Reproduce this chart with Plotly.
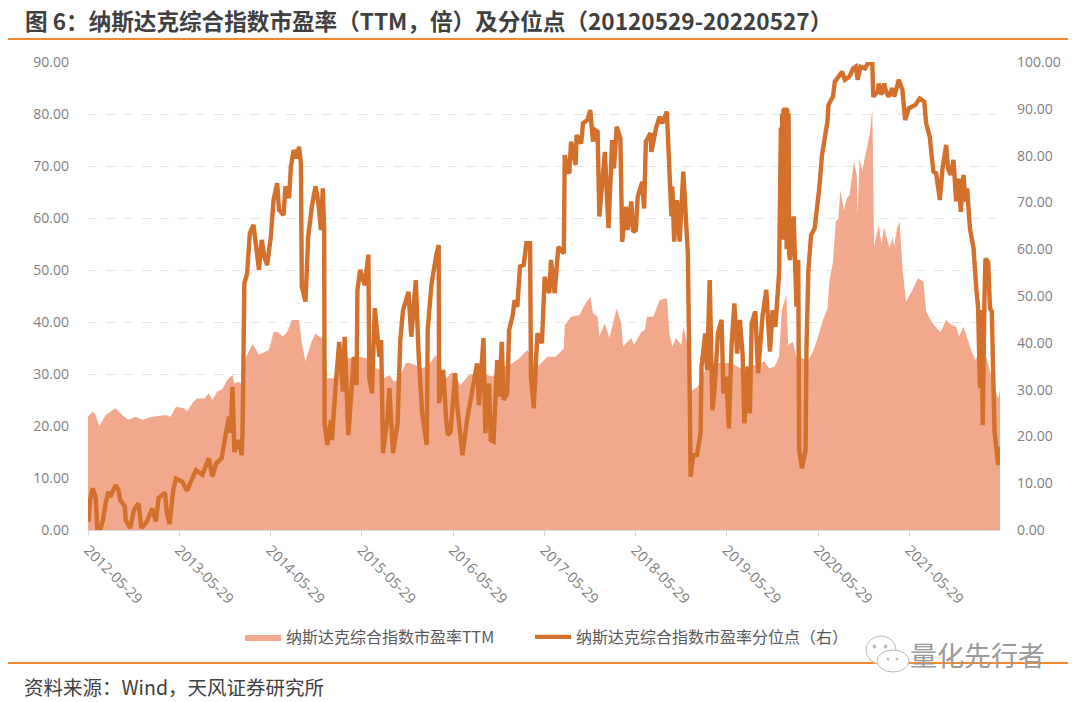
import pandas as pd
import plotly.graph_objects as go

title_text = "图 6：纳斯达克综合指数市盈率（TTM，倍）及分位点（20120529-20220527）"
source_text = "资料来源：Wind，天风证券研究所"
watermark_text = "量化先行者"
pe_name = "纳斯达克综合指数市盈率TTM"
pct_name = "纳斯达克综合指数市盈率分位点（右）"

tick_dates = ["2012-05-29", "2013-05-29", "2014-05-29", "2015-05-29", "2016-05-29",
              "2017-05-29", "2018-05-29", "2019-05-29", "2020-05-29", "2021-05-29"]
left_ticks = [0, 10, 20, 30, 40, 50, 60, 70, 80, 90]
right_ticks = [0, 10, 20, 30, 40, 50, 60, 70, 80, 90, 100]

# PE (x in fractional years)
pe_years = [
    2012.407, 2012.46, 2012.49, 2012.53, 2012.60, 2012.71, 2012.78, 2012.85, 2012.93, 2013.00,
    2013.11, 2013.26, 2013.31, 2013.37, 2013.46, 2013.49, 2013.55, 2013.60, 2013.68, 2013.73,
    2013.77, 2013.82, 2013.88, 2013.93, 2013.99, 2014.01, 2014.06, 2014.10, 2014.13, 2014.21,
    2014.28, 2014.39, 2014.44, 2014.49, 2014.54, 2014.59, 2014.64, 2014.72, 2014.75, 2014.79,
    2014.85, 2014.90, 2014.96, 2015.00, 2015.03, 2015.10, 2015.17, 2015.25, 2015.38, 2015.49,
    2015.56, 2015.61, 2015.65, 2015.71, 2015.76, 2015.82, 2015.89, 2015.94, 2015.99, 2016.07,
    2016.14, 2016.22, 2016.25, 2016.33, 2016.40, 2016.49, 2016.58, 2016.64, 2016.78, 2016.84,
    2016.95, 2017.02, 2017.13, 2017.22, 2017.33, 2017.44, 2017.53, 2017.62, 2017.63, 2017.70,
    2017.79, 2017.85, 2017.91, 2017.94, 2017.99, 2018.01, 2018.07, 2018.12, 2018.20, 2018.25,
    2018.27, 2018.36, 2018.39, 2018.47, 2018.51, 2018.53, 2018.60, 2018.67, 2018.75, 2018.78,
    2018.81, 2018.85, 2018.91, 2018.93, 2018.98, 2019.01, 2019.09, 2019.16, 2019.22, 2019.27,
    2019.34, 2019.45, 2019.56, 2019.67, 2019.73, 2019.82, 2019.87, 2019.93, 2019.98, 2020.01,
    2020.06, 2020.08, 2020.13, 2020.17, 2020.30, 2020.35, 2020.39, 2020.46, 2020.51, 2020.53,
    2020.57, 2020.60, 2020.63, 2020.65, 2020.69, 2020.72, 2020.75, 2020.80, 2020.83, 2020.84,
    2020.86, 2020.89, 2020.94, 2020.97, 2021.00, 2021.02, 2021.07, 2021.10, 2021.13, 2021.15,
    2021.19, 2021.22, 2021.24, 2021.27, 2021.30, 2021.33, 2021.37, 2021.43, 2021.50, 2021.56,
    2021.59, 2021.65, 2021.72, 2021.75, 2021.81, 2021.87, 2021.92, 2021.95, 2022.00, 2022.04,
    2022.09, 2022.13, 2022.16, 2022.25, 2022.33, 2022.38, 2022.40,
]
pe_values = [
    21.8, 22.8, 22.1, 20.0, 22.1, 23.4, 22.1, 21.2, 21.8, 21.2,
    21.8, 22.1, 21.8, 23.7, 23.4, 22.8, 24.4, 25.3, 25.3, 26.3,
    25.0, 26.6, 27.1, 28.8, 29.8, 28.2, 28.5, 27.9, 33.0, 35.8,
    33.7, 34.6, 38.1, 38.1, 37.2, 38.1, 40.4, 40.4, 35.9, 32.4,
    35.9, 37.8, 36.9, 37.2, 29.2, 29.2, 33.3, 33.0, 33.3, 33.0,
    31.1, 30.8, 29.2, 29.8, 28.5, 29.2, 32.1, 32.1, 31.7, 31.1,
    31.7, 33.7, 32.1, 29.2, 30.4, 27.9, 29.8, 30.1, 29.8, 29.5,
    31.4, 31.7, 33.0, 34.6, 31.4, 33.3, 33.3, 34.9, 39.4, 41.0,
    41.3, 43.3, 44.9, 41.7, 41.0, 37.2, 39.7, 36.9, 42.6, 39.7,
    35.3, 36.9, 35.6, 38.1, 38.5, 41.0, 41.0, 44.2, 44.6, 37.5,
    35.3, 36.9, 35.6, 39.1, 35.6, 26.6, 27.6, 30.4, 32.1, 32.1,
    32.1, 32.1, 31.1, 31.7, 31.7, 32.4, 31.1, 31.4, 33.3, 42.3,
    45.2, 35.6, 36.2, 33.3, 32.7, 34.3, 36.2, 40.4, 42.6, 47.8,
    51.6, 59.3, 59.9, 65.4, 61.5, 63.8, 64.4, 70.8, 68.3, 60.6,
    71.5, 69.2, 73.4, 76.0, 80.8, 54.5, 58.7, 55.1, 58.3, 56.7,
    54.2, 56.4, 54.5, 58.0, 59.3, 50.3, 43.9, 45.8, 48.4, 47.8,
    42.0, 40.1, 38.5, 38.1, 40.4, 39.4, 39.1, 37.2, 39.1, 36.9,
    34.3, 32.7, 33.7, 33.3, 27.9, 25.3, 26.9,
]

# percentile on the right axis, same x convention
pct_years = [
    2012.407, 2012.415, 2012.43, 2012.46, 2012.49, 2012.50, 2012.51, 2012.54, 2012.57, 2012.60,
    2012.63, 2012.65, 2012.71, 2012.74, 2012.76, 2012.81, 2012.82, 2012.87, 2012.91, 2012.96,
    2012.99, 2013.05, 2013.11, 2013.15, 2013.18, 2013.25, 2013.27, 2013.30, 2013.34, 2013.37,
    2013.44, 2013.49, 2013.54, 2013.59, 2013.66, 2013.73, 2013.77, 2013.81, 2013.87, 2013.91,
    2013.95, 2013.97, 2013.99, 2014.00, 2014.01, 2014.06, 2014.09, 2014.10, 2014.11, 2014.12,
    2014.15, 2014.18, 2014.22, 2014.28, 2014.31, 2014.34, 2014.37, 2014.41, 2014.44, 2014.48,
    2014.50, 2014.55, 2014.57, 2014.61, 2014.63, 2014.66, 2014.69, 2014.72, 2014.74, 2014.75,
    2014.79, 2014.82, 2014.86, 2014.90, 2014.93, 2014.96, 2014.98, 2014.995, 2015.00, 2015.03,
    2015.07, 2015.08, 2015.12, 2015.16, 2015.20, 2015.22, 2015.26, 2015.30, 2015.32, 2015.35,
    2015.36, 2015.39, 2015.44, 2015.48, 2015.49, 2015.52, 2015.55, 2015.58, 2015.60, 2015.62,
    2015.64, 2015.69, 2015.71, 2015.75, 2015.80, 2015.83, 2015.86, 2015.92, 2015.95, 2016.00,
    2016.03, 2016.07, 2016.12, 2016.13, 2016.17, 2016.22, 2016.25, 2016.255, 2016.30, 2016.33,
    2016.35, 2016.38, 2016.43, 2016.45, 2016.51, 2016.56, 2016.62, 2016.67, 2016.69, 2016.74,
    2016.76, 2016.80, 2016.82, 2016.85, 2016.89, 2016.91, 2016.94, 2016.96, 2017.00, 2017.02,
    2017.06, 2017.08, 2017.11, 2017.14, 2017.18, 2017.21, 2017.25, 2017.26, 2017.29, 2017.33,
    2017.38, 2017.41, 2017.46, 2017.48, 2017.52, 2017.56, 2017.62, 2017.63, 2017.66, 2017.68,
    2017.70, 2017.75, 2017.76, 2017.81, 2017.83, 2017.88, 2017.91, 2017.94, 2017.96, 2017.99,
    2018.01, 2018.04, 2018.07, 2018.11, 2018.15, 2018.17, 2018.20, 2018.24, 2018.26, 2018.30,
    2018.32, 2018.36, 2018.38, 2018.41, 2018.43, 2018.48, 2018.50, 2018.52, 2018.57, 2018.58,
    2018.63, 2018.67, 2018.70, 2018.75, 2018.78, 2018.80, 2018.81, 2018.83, 2018.86, 2018.89,
    2018.93, 2018.96, 2018.98, 2019.00, 2019.01, 2019.04, 2019.08, 2019.12, 2019.13, 2019.17,
    2019.19, 2019.22, 2019.25, 2019.27, 2019.31, 2019.35, 2019.37, 2019.40, 2019.43, 2019.46,
    2019.49, 2019.52, 2019.55, 2019.58, 2019.60, 2019.64, 2019.66, 2019.68, 2019.72, 2019.75,
    2019.80, 2019.84, 2019.88, 2019.91, 2019.94, 2019.98, 2020.00, 2020.007, 2020.014, 2020.021,
    2020.028, 2020.035, 2020.042, 2020.049, 2020.056, 2020.063, 2020.07, 2020.077, 2020.084, 2020.09,
    2020.10, 2020.14, 2020.17, 2020.19, 2020.20, 2020.23, 2020.27,
    2020.28, 2020.30, 2020.33, 2020.37, 2020.39, 2020.42, 2020.45, 2020.49, 2020.51, 2020.52,
    2020.57, 2020.59, 2020.62, 2020.67, 2020.70, 2020.75, 2020.79, 2020.82, 2020.84, 2020.87,
    2020.92, 2020.95, 2021.00, 2021.01, 2021.06, 2021.07, 2021.10, 2021.13, 2021.15, 2021.18,
    2021.22, 2021.24, 2021.27, 2021.29, 2021.33, 2021.36, 2021.40, 2021.47, 2021.52, 2021.57,
    2021.59, 2021.63, 2021.65, 2021.67, 2021.70, 2021.72, 2021.74, 2021.77, 2021.81, 2021.83,
    2021.86, 2021.89, 2021.92, 2021.95, 2021.97, 2022.00, 2022.02, 2022.04, 2022.07, 2022.11,
    2022.12, 2022.14, 2022.16, 2022.18, 2022.20, 2022.21, 2022.23, 2022.24, 2022.27, 2022.29,
    2022.31, 2022.33, 2022.34, 2022.38, 2022.40,
]
pct_values = [
    6.4, 1.8, 6.4, 8.9, 7.1, 2.8, 0.0, 0.0, 2.1, 5.7,
    8.2, 7.1, 9.6, 8.5, 6.4, 5.0, 2.1, 0.4, 4.3, 5.7,
    0.4, 1.8, 4.6, 1.8, 6.8, 8.0, 3.6, 1.3, 8.5, 11.0,
    10.3, 8.4, 10.7, 12.8, 11.8, 15.3, 11.4, 14.2, 15.3, 19.9,
    24.2, 20.7, 30.6, 24.2, 16.7, 19.2, 16.0, 20.7, 42.0, 52.7,
    54.8, 63.4, 65.2, 55.6, 62.0, 58.4, 56.6, 62.7, 70.5, 74.1,
    68.4, 67.3, 73.4, 70.9, 77.6, 81.2, 79.4, 81.9, 78.3, 52.0,
    48.8, 62.7, 69.1, 73.4, 70.2, 64.1, 73.0, 64.1, 22.8, 18.2,
    23.5, 19.2, 30.6, 40.2, 29.6, 41.3, 20.3, 30.6, 37.0, 31.0,
    51.3, 55.6, 52.3, 58.8, 32.4, 29.2, 47.4, 41.3, 37.0, 40.6,
    16.4, 24.2, 30.3, 16.4, 22.8, 40.6, 47.0, 50.9, 41.3, 53.4,
    37.7, 24.9, 18.2, 42.7, 52.3, 58.4, 60.9, 27.1, 34.2, 24.2,
    20.3, 21.0, 33.5, 27.1, 16.0, 23.5, 30.6, 35.6, 26.7, 41.0,
    20.7, 31.3, 19.2, 18.9, 36.3, 28.5, 40.2, 27.8, 29.2, 42.7,
    45.9, 49.1, 47.7, 56.3, 56.6, 61.3, 61.3, 32.8, 26.0, 42.0,
    39.9, 54.1, 50.6, 57.7, 50.6, 60.5, 59.1, 80.1, 76.9, 76.2,
    83.0, 78.0, 84.4, 82.6, 86.9, 87.6, 89.7, 83.0, 85.5, 85.1,
    67.0, 74.8, 80.8, 64.5, 83.3, 77.3, 86.2, 83.7, 61.6, 69.1,
    64.1, 70.2, 63.7, 64.1, 71.2, 74.4, 68.7, 83.0, 84.8, 80.8,
    85.8, 88.3, 86.9, 89.4, 74.8, 67.0, 73.4, 61.6, 70.5, 61.6,
    76.6, 67.3, 59.1, 30.0, 11.4, 16.0, 16.0, 20.7, 34.9, 42.0,
    34.2, 53.4, 25.6, 29.2, 42.0, 44.9, 29.2, 32.8, 21.7, 39.9,
    48.4, 37.7, 44.9, 37.7, 22.8, 34.9, 24.9, 44.2, 46.7, 33.5,
    45.9, 51.3, 38.1, 47.0, 43.4, 54.8, 86.0, 62.0, 89.0, 63.0,
    90.0, 64.0, 90.3, 62.0, 90.3, 60.0, 90.0, 60.0, 89.0, 59.0,
    57.7, 67.0, 47.7, 57.7, 17.1, 13.2, 17.1,
    38.8, 55.2, 63.0, 64.5, 68.0, 73.0, 80.1, 84.4, 87.3, 90.8,
    92.6, 95.8, 96.5, 97.9, 96.2, 96.9, 98.6, 99.0, 96.2, 99.0,
    98.6, 99.7, 99.7, 92.6, 93.7, 95.4, 93.0, 95.4, 93.7, 92.6,
    94.4, 92.6, 94.7, 96.2, 94.0, 87.6, 90.1, 90.8, 92.2, 91.5,
    86.9, 84.0, 80.1, 76.6, 76.2, 73.0, 70.5, 77.3, 82.3, 77.3,
    75.9, 79.1, 70.2, 75.1, 68.0, 75.9, 70.2, 73.0, 64.5, 60.2,
    55.9, 51.6, 47.4, 30.3, 47.0, 22.4, 49.5, 58.0, 57.3, 47.4,
    46.7, 30.3, 21.0, 13.9, 17.8,
]


def year_to_date(y):
    year = int(y)
    start = pd.Timestamp(year=year, month=1, day=1)
    days = 366 if start.is_leap_year else 365
    return start + pd.Timedelta(days=(y - year) * days)


pe_dates = [year_to_date(y) for y in pe_years]
pct_dates = [year_to_date(y) for y in pct_years]

# the page has a default 8px body margin, so the figure is 16px smaller than the window
W = 1072
H = 694
LEFT, RIGHT, TOP, BOTTOM = 80, 80, 54, 172
TEXT_GREY = "#7f7f7f"
ORANGE = "#f58a2d"
BUBBLE = "#b8b8b8"


# window pixels -> paper coordinates of the plot area
def px_x(p):
    return (p - 8 - LEFT) / (W - LEFT - RIGHT)


def px_y(p):
    return 1 - (p - 8 - TOP) / (H - TOP - BOTTOM)


def bubble(x0, x1, y0, y1, fill="white"):
    return dict(type="circle", xref="paper", yref="paper", x0=px_x(x0), x1=px_x(x1),
                y0=px_y(y1), y1=px_y(y0), line=dict(color=BUBBLE, width=1), fillcolor=fill)


def rule(y):
    return dict(type="line", xref="paper", yref="paper", x0=px_x(8), x1=px_x(1068),
                y0=px_y(y), y1=px_y(y), line=dict(color=ORANGE, width=2))


legend_font = dict(size=16, color="#595959", family="Noto Sans CJK SC, sans-serif")

fig = go.Figure()
fig.add_trace(go.Scatter(x=pe_dates, y=pe_values, name=pe_name, mode="lines",
                         line=dict(color="#f2a88c", width=0), fill="tozeroy",
                         fillcolor="#f2a88c", yaxis="y", legend="legend"))
fig.add_trace(go.Scatter(x=pct_dates, y=pct_values, name=pct_name, mode="lines",
                         line=dict(color="#d2702c", width=4.4), yaxis="y2", legend="legend2"))

fig.update_layout(
    width=W, height=H, autosize=False, showlegend=True,
    margin=dict(l=LEFT, r=RIGHT, t=TOP, b=BOTTOM, autoexpand=False),
    paper_bgcolor="white", plot_bgcolor="white",
    font=dict(family="Open Sans, Noto Sans CJK SC, sans-serif", color=TEXT_GREY, size=14),
    xaxis=dict(type="date", range=["2012-05-29", "2022-05-27"], tickmode="array",
               tickvals=tick_dates, ticktext=tick_dates, tickangle=45, tickfont=dict(size=14.5),
               ticks="outside", ticklen=5, tickcolor="#d9d9d9", showline=True,
               linecolor="#d9d9d9", linewidth=1, showgrid=False, zeroline=False),
    yaxis=dict(range=[0, 90], tickmode="array", tickvals=left_ticks, tickformat=".2f",
               showgrid=True, gridcolor="#e4e4e4", griddash="dash", zeroline=False,
               ticklabelstandoff=18),
    yaxis2=dict(range=[0, 100], tickmode="array", tickvals=right_ticks, tickformat=".2f",
                overlaying="y", side="right", showgrid=False, zeroline=False,
                ticklabelstandoff=16),
    legend=dict(orientation="h", x=px_x(240), y=px_y(620), xanchor="left", yanchor="top",
                itemwidth=36, bgcolor="rgba(0,0,0,0)", font=legend_font),
    legend2=dict(orientation="h", x=px_x(530), y=px_y(620), xanchor="left", yanchor="top",
                 itemwidth=36, bgcolor="rgba(0,0,0,0)", font=legend_font),
    shapes=[
        rule(39),
        rule(663),
        bubble(866, 896, 636, 664),
        bubble(877, 909, 650, 672),
        bubble(873, 876, 645, 648, BUBBLE),
        bubble(884, 887, 645, 648, BUBBLE),
        bubble(887, 889, 658, 660, BUBBLE),
        bubble(896, 898, 658, 660, BUBBLE),
    ],
    annotations=[
        dict(text=title_text, xref="paper", yref="paper", x=px_x(23), y=px_y(20),
             xanchor="left", yanchor="middle", showarrow=False,
             font=dict(size=22.6, color="#404040", family="Noto Sans CJK SC, sans-serif", weight="bold")),
        dict(text=source_text, xref="paper", yref="paper", x=px_x(22), y=px_y(686),
             xanchor="left", yanchor="middle", showarrow=False,
             font=dict(size=19.5, color="#404040", family="Noto Sans CJK SC, sans-serif")),
        dict(text=watermark_text, xref="paper", yref="paper", x=px_x(908), y=px_y(654),
             xanchor="left", yanchor="middle", showarrow=False,
             font=dict(size=27, color="#9a9a9a", family="Noto Sans CJK SC, sans-serif")),
    ],
)

fig.write_html("out.html")
